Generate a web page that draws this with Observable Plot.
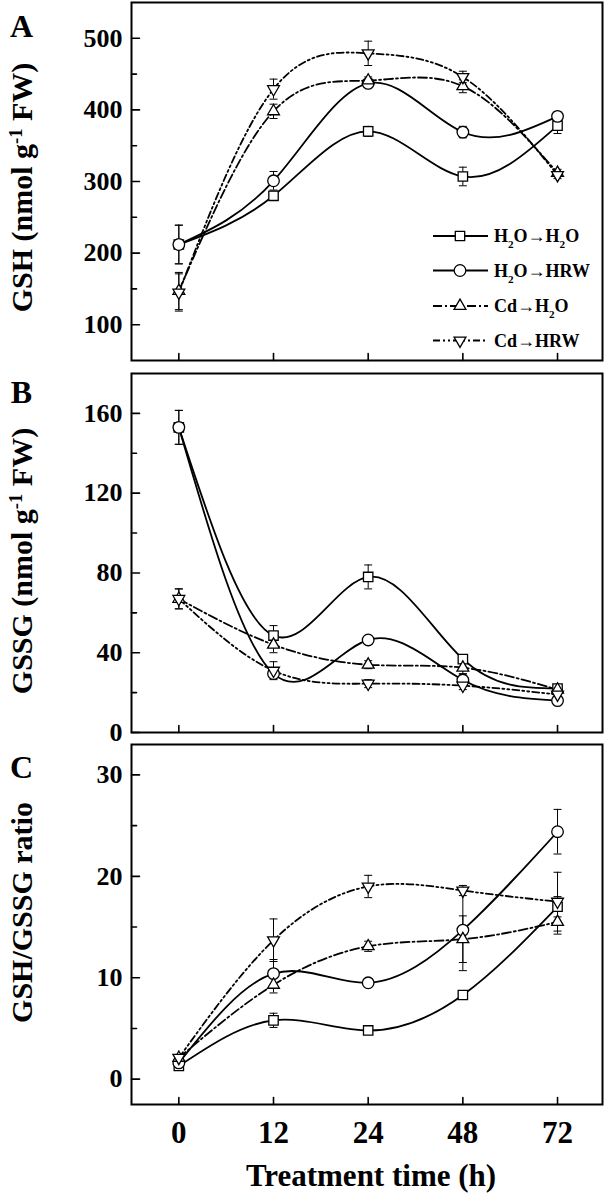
<!DOCTYPE html>
<html><head><meta charset="utf-8">
<script src="https://cdn.jsdelivr.net/npm/d3@7"></script>
<script src="https://cdn.jsdelivr.net/npm/@observablehq/plot@0.6"></script>
<style>
body{margin:0;background:#fff;}
#chart{position:relative;width:607px;height:1194px;background:#fff;}
#chart svg{position:absolute;left:0;overflow:visible;}
</style></head><body><div id="chart"></div>
<script>
// ---- categories ----
const times = ["0", "12", "24", "48", "72"];
const seriesNames = ["H_{2}O→H_{2}O", "H_{2}O→HRW", "Cd→H_{2}O", "Cd→HRW"];

// ---- Panel A: GSH (nmol g-1 FW) ----
const gsh_H2O_H2O = [212, 280, 370, 307, 378];
const gsh_H2O_HRW = [212, 301, 437, 369, 391];
const gsh_Cd_H2O  = [147, 398, 441, 433, 312];
const gsh_Cd_HRW  = [145, 429, 479, 446, 309];
const gshErr_H2O_H2O = [27, 6, 7, 13, 11];
const gshErr_H2O_HRW = [27, 13, 5, 8, 6];
const gshErr_Cd_H2O  = [26, 10, 5, 9, 5];
const gshErr_Cd_HRW  = [26, 14, 17, 8, 5];

// ---- Panel B: GSSG (nmol g-1 FW) ----
const gssg_H2O_H2O = [153, 48.6, 78, 36.8, 22];
const gssg_H2O_HRW = [153, 29.5, 46.4, 26.3, 16];
const gssg_Cd_H2O  = [67, 44, 34, 32.5, 21.5];
const gssg_Cd_HRW  = [67, 31, 24.5, 23.5, 19];
const gssgErr_H2O_H2O = [8.5, 5, 6, 2, 1.5];
const gssgErr_H2O_HRW = [8.5, 2, 1, 3, 1];
const gssgErr_Cd_H2O  = [5, 4, 2, 3, 1];
const gssgErr_Cd_HRW  = [5, 4.5, 2, 2, 1];

// ---- Panel C: GSH/GSSG ratio ----
const ratio_H2O_H2O = [1.3, 5.8, 4.8, 8.3, 17.0];
const ratio_H2O_HRW = [1.6, 10.4, 9.5, 14.7, 24.4];
const ratio_Cd_H2O  = [2.1, 9.3, 13.1, 13.8, 15.5];
const ratio_Cd_HRW  = [2.1, 13.7, 19.0, 18.6, 17.5];
const ratioErr_H2O_H2O = [0.3, 0.7, 0.2, 0.3, 1.0];
const ratioErr_H2O_HRW = [0.3, 1.4, 0.3, 4.0, 2.2];
const ratioErr_Cd_H2O  = [0.3, 0.8, 0.5, 2.3, 1.2];
const ratioErr_Cd_HRW  = [0.3, 2.1, 1.1, 0.5, 2.9];

// ---- axis ticks ----
const gshMajor = [100, 200, 300, 400, 500], gshMinor = [150, 250, 350, 450];
const gssgMajor = [0, 40, 80, 120, 160], gssgMinor = [20, 60, 100, 140];
const ratioMajor = [0, 10, 20, 30], ratioMinor = [5, 15, 25];

const FONT = "'Liberation Serif','Times New Roman',Times,serif";
const sqrt3 = Math.sqrt(3);
const triangleDown = {draw(ctx, size) {
  const y = -Math.sqrt(size / (sqrt3 * 3));
  ctx.moveTo(0, -y * 2); ctx.lineTo(-sqrt3 * y, y); ctx.lineTo(sqrt3 * y, y); ctx.closePath();
}};
const capSym = {draw(ctx) { ctx.moveTo(-4, 0); ctx.lineTo(4, 0); }};
const tickShape = {draw(ctx, l) { ctx.moveTo(0, 0); ctx.lineTo(0, -l); }};

const styles = [
  {symbol: "square", r: 5.3, dash: null},
  {symbol: "circle", r: 5.8, dash: null},
  {symbol: "triangle", r: 4.4, dash: "9,3,2,3"},
  {symbol: triangleDown, r: 4.4, dash: "7,3,2,3,2,3"}
];

function rows(vals, errs) { return vals.map((v, i) => ({i, v, e: errs[i]})); }

const panels = [
  {label: "A", top: 0, height: 366, mt: 2, mb: 6, domain: [50, 550], major: gshMajor, minor: gshMinor,
   title: "GSH (nmol g^{-1} FW)", titleDy: 6, labelY: 26,
   data: [rows(gsh_H2O_H2O, gshErr_H2O_H2O), rows(gsh_H2O_HRW, gshErr_H2O_HRW), rows(gsh_Cd_H2O, gshErr_Cd_H2O), rows(gsh_Cd_HRW, gshErr_Cd_HRW)]},
  {label: "B", top: 366, height: 372, mt: 7, mb: 6, domain: [0, 180], major: gssgMajor, minor: gssgMinor,
   title: "GSSG (nmol g^{-1} FW)", titleDy: 8, labelY: 392,
   data: [rows(gssg_H2O_H2O, gssgErr_H2O_H2O), rows(gssg_H2O_HRW, gssgErr_H2O_HRW), rows(gssg_Cd_H2O, gssgErr_Cd_H2O), rows(gssg_Cd_HRW, gssgErr_Cd_HRW)]},
  {label: "C", top: 738, height: 456, mt: 6, mb: 90, domain: [-2.5, 33], major: ratioMajor, minor: ratioMinor,
   title: "GSH/GSSG ratio", titleDy: -12, labelY: 767,
   data: [rows(ratio_H2O_H2O, ratioErr_H2O_H2O), rows(ratio_H2O_HRW, ratioErr_H2O_HRW), rows(ratio_Cd_H2O, ratioErr_Cd_H2O), rows(ratio_Cd_HRW, ratioErr_Cd_HRW)]}
];

function richify(svg) {
  svg.querySelectorAll("text").forEach(t => {
    const s = t.textContent;
    if (!/[\^_]\{/.test(s)) return;
    const html = s.replace(/&/g, "&amp;").replace(/</g, "&lt;")
      .replace(/\^\{([^}]*)\}/g, '<tspan baseline-shift="super" font-size="62%">$1</tspan>')
      .replace(/_\{([^}]*)\}/g, '<tspan baseline-shift="sub" font-size="62%">$1</tspan>');
    t.innerHTML = html;
  });
}

const chart = document.getElementById("chart");
const idx = times.map((d, i) => i);

panels.forEach((p, pi) => {
  const marks = [];
  // error bars
  p.data.forEach(d => {
    marks.push(Plot.ruleX(d, {x: "i", y1: r => r.v - r.e, y2: r => r.v + r.e, stroke: "black", strokeWidth: 1}));
    marks.push(Plot.dot(d, {x: "i", y: r => r.v + r.e, symbol: capSym, r: 3, stroke: "black", strokeWidth: 1, fill: "none"}));
    marks.push(Plot.dot(d, {x: "i", y: r => r.v - r.e, symbol: capSym, r: 3, stroke: "black", strokeWidth: 1, fill: "none"}));
  });
  // lines
  p.data.forEach((d, si) => {
    marks.push(Plot.line(d, {x: "i", y: "v", curve: "natural", stroke: "black", strokeWidth: 1.8,
      strokeDasharray: styles[si].dash || undefined}));
  });
  // markers
  p.data.forEach((d, si) => {
    marks.push(Plot.dot(d, {x: "i", y: "v", symbol: styles[si].symbol, r: styles[si].r,
      stroke: "black", strokeWidth: 1.3, fill: "white"}));
  });
  // ticks (inward)
  marks.push(Plot.vector(p.major, {y: d => d, frameAnchor: "left", length: 8, rotate: 90, anchor: "start", shape: tickShape, stroke: "black", strokeWidth: 1.6}));
  marks.push(Plot.vector(p.minor, {y: d => d, frameAnchor: "left", length: 5, rotate: 90, anchor: "start", shape: tickShape, stroke: "black", strokeWidth: 1.6}));
  marks.push(Plot.vector(idx, {x: d => d, frameAnchor: "bottom", length: 7, rotate: 0, anchor: "start", shape: tickShape, stroke: "black", strokeWidth: 1.6}));
  // tick labels
  marks.push(Plot.text(p.major, {y: d => d, text: d => String(d), frameAnchor: "left", dx: -9, textAnchor: "end", lineAnchor: "middle", fontSize: 26, fontWeight: "bold"}));
  // y title
  marks.push(Plot.text([p.title], {text: d => d, frameAnchor: "left", dx: -109, dy: p.titleDy, rotate: -90, textAnchor: "middle", lineAnchor: "middle", fontSize: 30, fontWeight: "bold"}));
  // panel label
  marks.push(Plot.text([p.label], {text: d => d, frameAnchor: "top-left", dx: -110, dy: p.labelY - p.top - p.mt, textAnchor: "middle", lineAnchor: "middle", fontSize: 32, fontWeight: "bold"}));
  if (pi === 2) {
    marks.push(Plot.text(idx, {x: d => d, text: d => times[d], frameAnchor: "bottom", dy: 29, textAnchor: "middle", lineAnchor: "middle", fontSize: 31, fontWeight: "bold"}));
    marks.push(Plot.text(["Treatment time (h)"], {text: d => d, frameAnchor: "bottom", dx: 4, dy: 72, textAnchor: "middle", lineAnchor: "middle", fontSize: 31, fontWeight: "bold"}));
  }
  marks.push(Plot.frame({stroke: "black", strokeWidth: 2}));

  const svg = Plot.plot({
    width: 607, height: p.height,
    marginLeft: 131, marginRight: 5, marginTop: p.mt, marginBottom: p.mb,
    x: {type: "linear", domain: [-0.5, 4.475], axis: null},
    y: {type: "linear", domain: p.domain, axis: null},
    style: {fontFamily: FONT, fontWeight: "bold", background: "transparent", color: "black", overflow: "visible"},
    marks
  });
  svg.style.top = p.top + "px";
  chart.appendChild(svg);

  if (pi === 0) {
    // legend
    const g = d3.select(svg).append("g").attr("font-family", FONT).attr("font-weight", "bold").attr("font-size", 18).attr("text-anchor", "start");
    const rowsY = [236, 270.5, 306, 340.5];
    seriesNames.forEach((name, si) => {
      const y = rowsY[si];
      g.append("line").attr("x1", 433).attr("x2", 488).attr("y1", y).attr("y2", y)
        .attr("stroke", "black").attr("stroke-width", 1.8)
        .attr("stroke-dasharray", styles[si].dash);
      const symType = styles[si].symbol === "square" ? d3.symbolSquare
        : styles[si].symbol === "circle" ? d3.symbolCircle
        : styles[si].symbol === "triangle" ? d3.symbolTriangle : styles[si].symbol;
      const sym = d3.symbol(symType, Math.PI * styles[si].r ** 2);
      g.append("path").attr("d", sym()).attr("transform", `translate(460,${y})`)
        .attr("fill", "white").attr("stroke", "black").attr("stroke-width", 1.3);
      g.append("text").attr("x", 494).attr("y", y).attr("dy", "0.35em").attr("text-anchor", "start").text(name);
    });
  }
  richify(svg);
});
</script></body></html>
